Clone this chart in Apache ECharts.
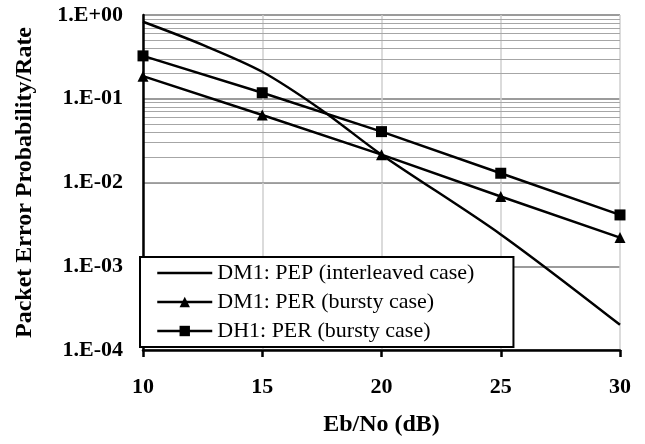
<!DOCTYPE html>
<html>
<head>
<meta charset="utf-8">
<script src="https://cdn.jsdelivr.net/npm/echarts@6/dist/echarts.min.js"></script>
<style>
  html, body { margin: 0; padding: 0; background: #fff; }
  #chart { width: 645px; height: 444px; }
</style>
</head>
<body>
<div id="chart"></div>
<script>
// Eb/No (dB) points where the bursty cases were measured
const ebNo = [10, 15, 20, 25, 30];
// DM1 PEP curve (interleaved case), read at a few extra points to keep its bend
const pepEbNo = [10, 12.5, 15, 17.5, 20, 25, 30];
const pepValues = [0.83, 0.44, 0.21, 0.073, 0.0215, 0.0024, 0.0002];
const dm1PerValues = [0.186, 0.064, 0.0215, 0.0068, 0.0022];
const dh1PerValues = [0.325, 0.118, 0.0405, 0.0129, 0.0041];

const seriesNames = ["DM1: PEP (interleaved case)", "DM1: PER (bursty case)", "DH1: PER (bursty case)"];
const yTickLabels = { "0": "1.E+00", "-1": "1.E-01", "-2": "1.E-02", "-3": "1.E-03", "-4": "1.E-04" };
const decades = [0.0001, 0.001, 0.01, 0.1];
const minorSteps = [2, 3, 4, 5, 6, 7, 8, 9];

const FONT = "'Liberation Serif', 'Times New Roman', serif";

// minor gridlines at 2..9 of each decade (Excel style log grid)
const minorGrid = [];
decades.forEach(d => minorSteps.forEach(m => minorGrid.push({ yAxis: d * m })));

const chart = echarts.init(document.getElementById("chart"));

chart.setOption({
  animation: false,
  backgroundColor: "#fff",
  grid: { left: 143, right: 25, top: 15, bottom: 94 },
  xAxis: {
    type: "value",
    min: 10,
    max: 30,
    interval: 5,
    name: "Eb/No (dB)",
    nameLocation: "middle",
    nameGap: 63,
    nameTextStyle: { fontFamily: FONT, fontWeight: "bold", fontSize: 24, color: "#000" },
    axisLine: { show: true, onZero: false, lineStyle: { color: "#000", width: 2.5 } },
    axisTick: { show: true, inside: false, length: 7, lineStyle: { color: "#000", width: 2.5 } },
    axisLabel: { margin: 26, fontFamily: FONT, fontWeight: "bold", fontSize: 22, color: "#000" },
    splitLine: { show: true, lineStyle: { color: "#cfcfcf", width: 1.5 } },
  },
  yAxis: {
    type: "log",
    logBase: 10,
    min: 0.0001,
    max: 1,
    name: "Packet Error Probability/Rate",
    nameLocation: "middle",
    nameGap: 106,
    nameTextStyle: { fontFamily: FONT, fontWeight: "bold", fontSize: 24, color: "#000" },
    axisLine: { show: true, lineStyle: { color: "#000", width: 2.5 } },
    axisTick: { show: false },
    axisLabel: {
      margin: 20,
      fontFamily: FONT,
      fontWeight: "bold",
      fontSize: 22,
      color: "#000",
      formatter: v => yTickLabels[String(Math.round(Math.log10(v)))] || "",
    },
    splitLine: { show: true, lineStyle: { color: "#7a7a7a", width: 1.5 } },
  },
  legend: {
    orient: "vertical",
    left: 140,
    top: 257,
    padding: [5, 39, 5, 16],
    itemGap: 7,
    itemWidth: 55,
    itemHeight: 13,
    backgroundColor: "#fff",
    borderColor: "#000",
    borderWidth: 2,
    borderRadius: 0,
    lineStyle: { width: 2.5, color: "#000" },
    textStyle: { fontFamily: FONT, fontSize: 22, color: "#000" },
    data: [
      { name: seriesNames[0], itemStyle: { opacity: 0 } },
      { name: seriesNames[1] },
      { name: seriesNames[2] },
    ],
  },
  series: [
    {
      name: seriesNames[0],
      type: "line",
      smooth: 0.3,
      symbol: "none",
      lineStyle: { color: "#000", width: 2.5 },
      itemStyle: { color: "#000" },
      data: pepEbNo.map((x, i) => [x, pepValues[i]]),
      markLine: {
        silent: true,
        symbol: ["none", "none"],
        label: { show: false },
        lineStyle: { color: "#a6a6a6", width: 1, type: "solid" },
        data: minorGrid,
        z: 0,
      },
    },
    {
      name: seriesNames[1],
      type: "line",
      symbol: "triangle",
      symbolSize: 11,
      lineStyle: { color: "#000", width: 2.5 },
      itemStyle: { color: "#000" },
      data: ebNo.map((x, i) => [x, dm1PerValues[i]]),
    },
    {
      name: seriesNames[2],
      type: "line",
      symbol: "rect",
      symbolSize: 11,
      lineStyle: { color: "#000", width: 2.5 },
      itemStyle: { color: "#000" },
      data: ebNo.map((x, i) => [x, dh1PerValues[i]]),
    },
  ],
});
</script>
</body>
</html>
